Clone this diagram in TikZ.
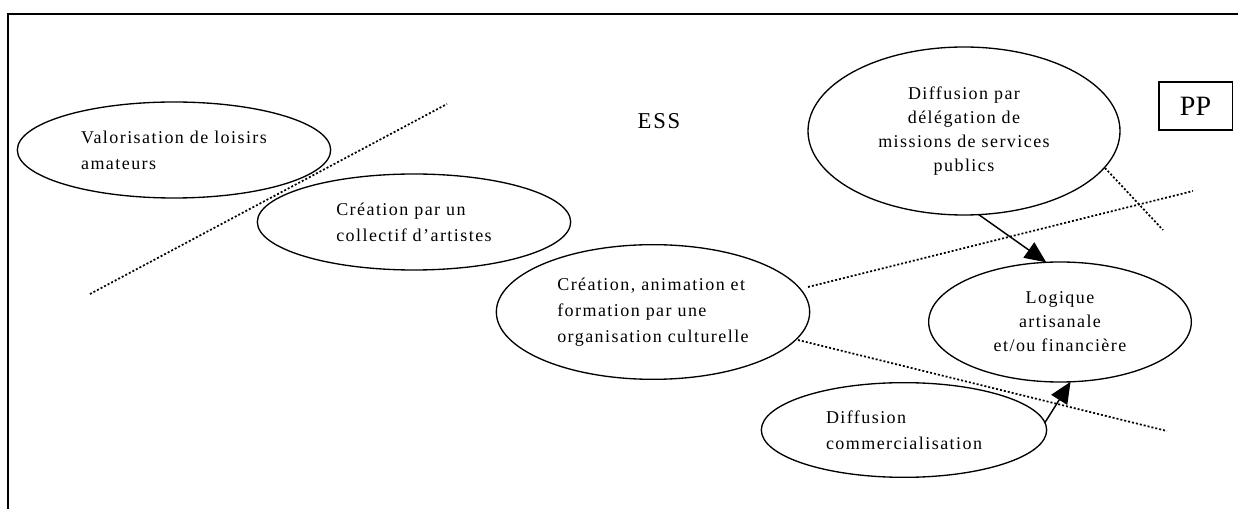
\documentclass[tikz,border=0pt]{standalone}
\usepackage{fontspec}
\setmainfont{Liberation Serif}
\newfontfamily\espace[LetterSpace=8]{Liberation Serif}
\usetikzlibrary{shapes.geometric,arrows.meta}
\begin{document}
\begin{tikzpicture}[x=0.75pt,y=-0.75pt,
  bulle/.style={ellipse, draw, line width=1pt, inner sep=0pt, outer sep=0pt, align=left,
    font=\espace\fontsize{13.5}{19.5}\selectfont},
  limite/.style={line width=1.3pt, dash pattern=on 1.5pt off 1.5pt},
  fleche/.style={line width=1.1pt, -{Triangle[length=16pt,width=14pt]}}]
\useasboundingbox (0,0) rectangle (1239,509);
\draw[line width=1.5pt] (8,509) -- (8,14) -- (1238,14);
% zones
\node[font=\espace\fontsize{17}{20}\selectfont] (ess) at (659,121) {ESS};
\node[draw, line width=1pt, minimum width=55pt, minimum height=36pt, inner sep=0pt,
  font=\fontsize{21}{24}\selectfont] (pp) at (1195.5,106) {PP};
% ellipses
\node[bulle, minimum width=235pt, minimum height=72pt] (val) at (174,150) {Valorisation de loisirs\\amateurs};
\node[bulle, minimum width=235pt, minimum height=72pt] (coll) at (414,222) {Création par un\\collectif d’artistes};
\node[bulle, minimum width=235pt, minimum height=101pt] (anim) at (653,312) {Création, animation et\\formation par une\\organisation culturelle};
\node[bulle, align=center, minimum width=234pt, minimum height=126pt,
  font=\espace\fontsize{13.5}{18}\selectfont] (deleg) at (964,131) {Diffusion par\\délégation de\\missions de services\\publics};
\node[bulle, align=center, minimum width=197pt, minimum height=90pt,
  font=\espace\fontsize{13.5}{18}\selectfont] (logi) at (1060,322) {Logique\\artisanale\\et/ou financière};
\node[bulle, minimum width=214pt, minimum height=71pt] (comm) at (904,430) {Diffusion\\commercialisation};
% limites
\coordinate (la1) at (90,294);
\coordinate (la2) at (447,104);
\coordinate (lb1) at (808,287);
\coordinate (lb2) at (1193,191);
\coordinate (lc1) at (798,340);
\coordinate (lc2) at (1167,431);
\coordinate (ld1) at (1105,168);
\coordinate (ld2) at (1163,230);
\draw[limite] (la1) -- (la2);
\draw[limite] (lb1) -- (lb2);
\draw[limite] (lc1) -- (lc2);
\draw[limite] (ld1) -- (ld2);
% fleches
\draw[fleche] (deleg.-80) -- (logi.103);
\draw[fleche] (comm.3) -- (logi.-80);
\end{tikzpicture}
\end{document}
